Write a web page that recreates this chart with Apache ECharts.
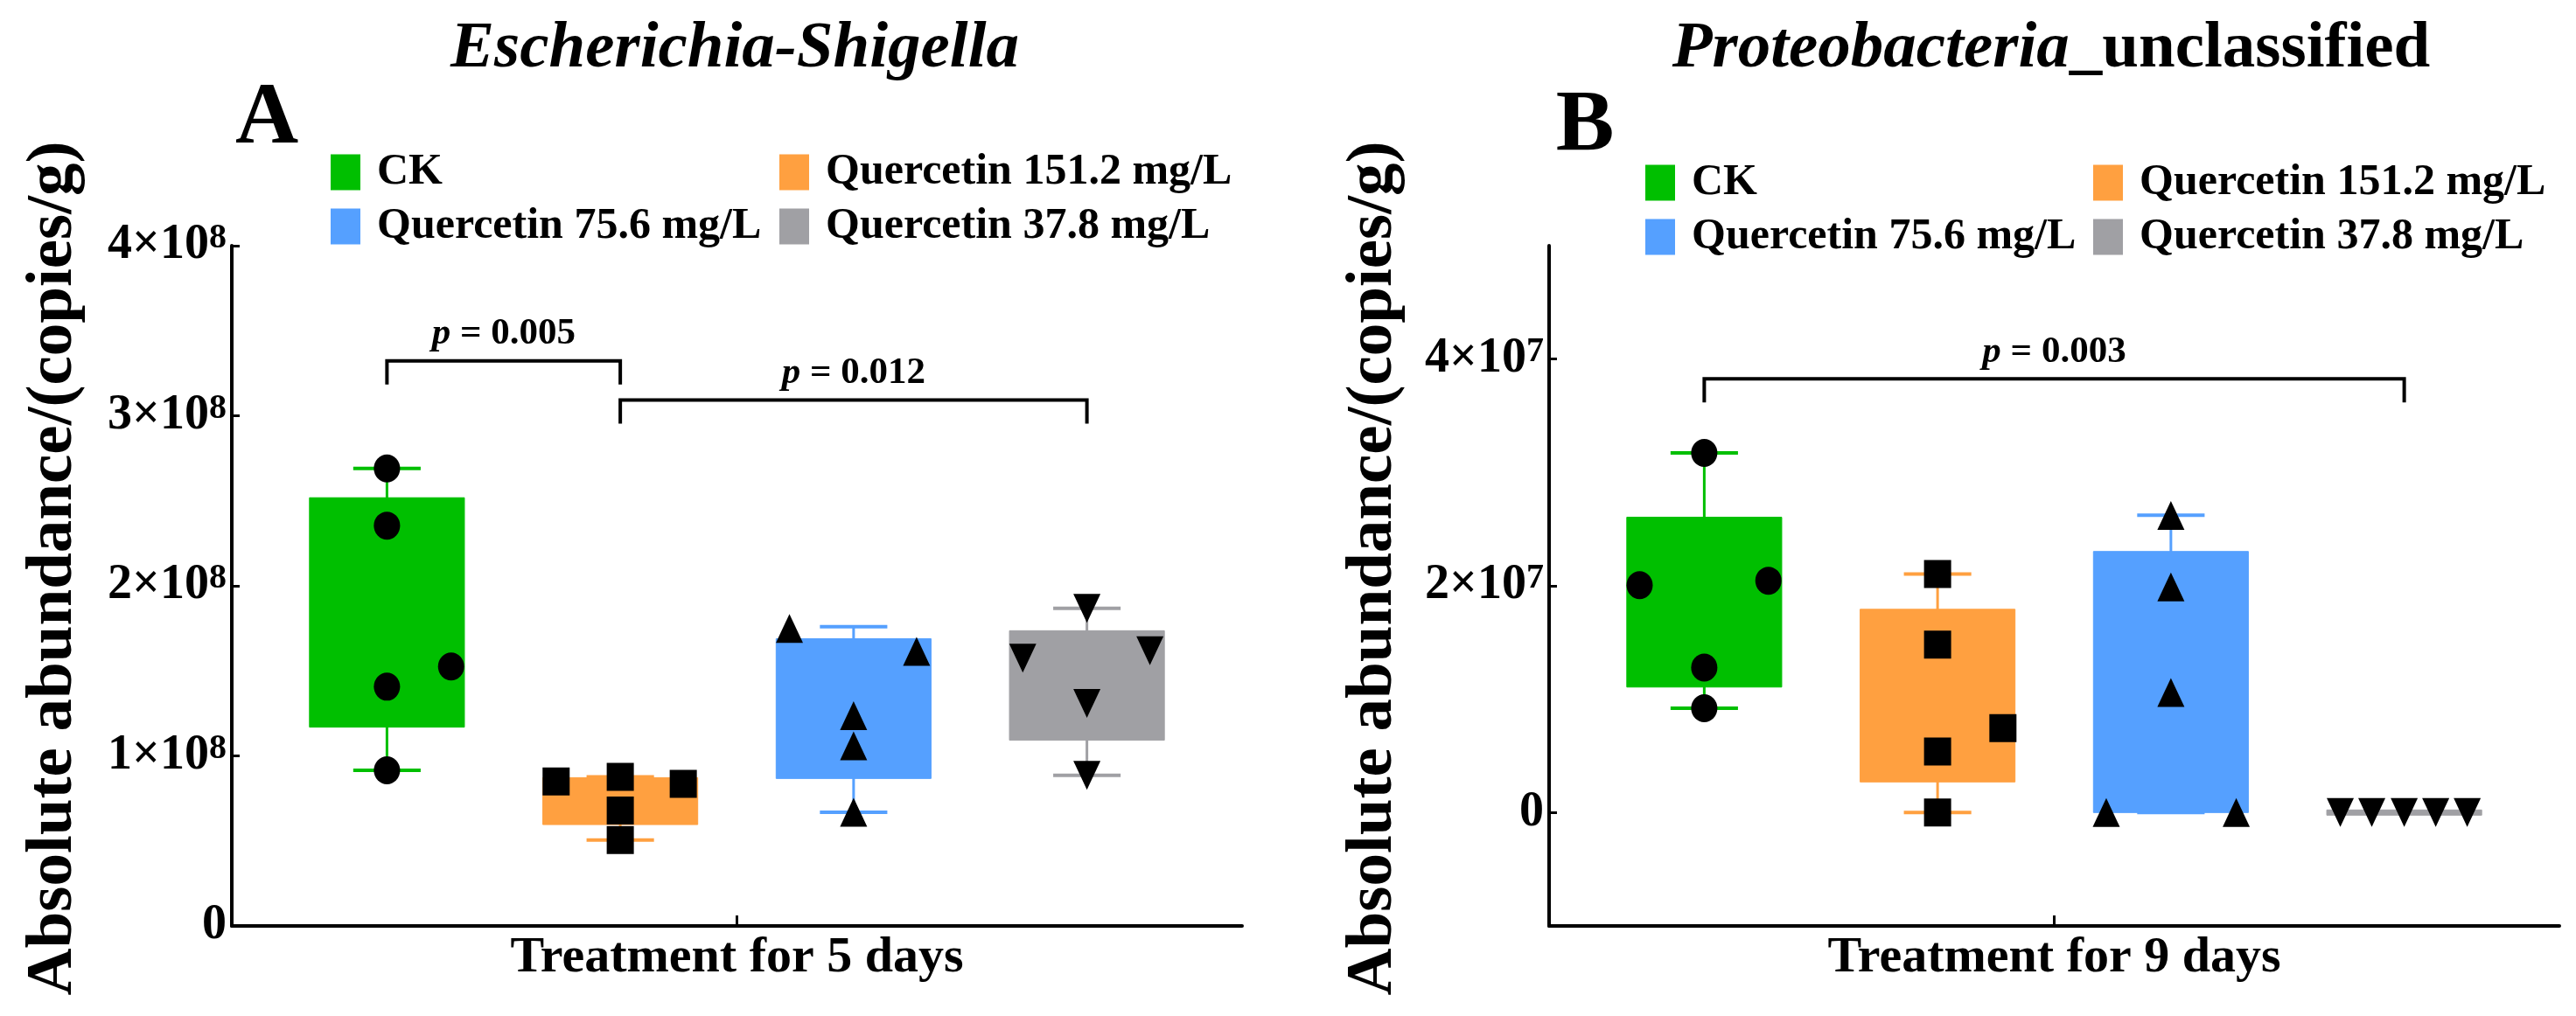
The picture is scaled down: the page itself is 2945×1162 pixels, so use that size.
<!DOCTYPE html>
<html>
<head>
<meta charset="utf-8">
<script src="https://cdn.jsdelivr.net/npm/echarts@6/dist/echarts.min.js"></script>
<style>
html,body{margin:0;padding:0;background:#fff;}
#c{width:2945px;height:1162px;}
</style>
</head>
<body>
<div id="c"></div>
<script>
// ---------- DATA ----------
const groups = ['CK', 'Quercetin 151.2 mg/L', 'Quercetin 75.6 mg/L', 'Quercetin 37.8 mg/L'];
const groupPos = [1, 2, 3, 4];

// Panel A: Escherichia-Shigella, treatment for 5 days (copies/g)
const aCK     = [2.69e8, 2.354e8, 1.526e8, 1.407e8, 0.915e8];
const aQ151   = [0.877e8, 0.85e8, 0.836e8, 0.679e8, 0.505e8];
const aQ756   = [1.75e8, 1.615e8, 1.236e8, 1.059e8, 0.668e8];
const aQ378   = [1.867e8, 1.618e8, 1.574e8, 1.309e8, 0.885e8];
// box summaries [min, Q1, Q3, max]
const aBoxCK   = [0.915e8, 1.169e8, 2.518e8, 2.69e8];
const aBoxQ151 = [0.505e8, 0.596e8, 0.872e8, 0.877e8];
const aBoxQ756 = [0.668e8, 0.867e8, 1.689e8, 1.759e8];
const aBoxQ378 = [0.885e8, 1.092e8, 1.736e8, 1.867e8];
// horizontal scatter offsets of the dots (category units)
const aJitCK   = [0, 0, 0.275, 0, 0];
const aJitQ151 = [0, -0.275, 0.27, 0, 0];
const aJitQ756 = [-0.275, 0.27, 0, 0, 0];
const aJitQ378 = [0, 0.27, -0.275, 0, 0];
// significance brackets [fromGroup, toGroup, height]
const aBrackets = [[1, 2, 3.323e8], [2, 4, 3.092e8]];
const aPvalues  = ['0.005', '0.012'];
const aYTicks   = [0, 1e8, 2e8, 3e8, 4e8];
const aExp      = 8;

// Panel B: Proteobacteria_unclassified, treatment for 9 days (copies/g)
const bCK     = [3.172e7, 2.045e7, 2.006e7, 1.279e7, 0.92e7];
const bQ151   = [2.104e7, 1.481e7, 0.745e7, 0.538e7, 0];
const bQ756   = [2.62e7, 1.99e7, 1.06e7, 0, 0];
const bQ378   = [0, 0, 0, 0, 0];
const bBoxCK   = [0.92e7, 1.107e7, 2.605e7, 3.172e7];
const bBoxQ151 = [0, 0.27e7, 1.793e7, 2.104e7];
const bBoxQ756 = [0, 0, 2.303e7, 2.623e7];
const bBoxQ378 = [0, 0, 0, 0];
const bJitCK   = [0, 0.275, -0.277, 0, 0];
const bJitQ151 = [0, 0, 0.28, 0, 0];
const bJitQ756 = [0, 0, 0, -0.277, 0.28];
const bJitQ378 = [-0.274, -0.139, 0, 0.135, 0.27];
const bBrackets = [[1, 4, 3.825e7]];
const bPvalues  = ['0.003'];
const bYTicks   = [0, 2e7, 4e7];
const bExp      = 7;

// ---------- STYLE ----------
const F = 'Liberation Serif';
const colors = ['#00BF00', '#FFA040', '#55A0FF', '#A0A0A4'];
const symbols = [
  {symbol: 'circle', size: [30, 32], rotate: 0},
  {symbol: 'rect', size: [31, 32], rotate: 0},
  {symbol: 'triangle', size: [31, 33], rotate: 0},
  {symbol: 'triangle', size: [31, 33], rotate: 180}
];
const BOX_W = 0.664, CAP_W = 0.289;

function renderBox(params, api) {
  const x = api.value(0);
  const pLo = api.coord([x, api.value(1)]);
  const pQ1 = api.coord([x, api.value(2)]);
  const pQ3 = api.coord([x, api.value(3)]);
  const pHi = api.coord([x, api.value(4)]);
  const bw = api.size([BOX_W, 0])[0];
  const cw = api.size([CAP_W, 0])[0];
  const color = api.visual('color');
  let top = pQ3[1], h = pQ1[1] - pQ3[1];
  if (h < 6) { top = (pQ1[1] + pQ3[1]) / 2 - 3; h = 6; }
  return {
    type: 'group',
    children: [
      {type: 'line', shape: {x1: pLo[0], y1: pLo[1], x2: pHi[0], y2: pHi[1]}, style: {stroke: color, lineWidth: 3}},
      {type: 'line', shape: {x1: pLo[0] - cw / 2, y1: pLo[1], x2: pLo[0] + cw / 2, y2: pLo[1]}, style: {stroke: color, lineWidth: 4}},
      {type: 'line', shape: {x1: pHi[0] - cw / 2, y1: pHi[1], x2: pHi[0] + cw / 2, y2: pHi[1]}, style: {stroke: color, lineWidth: 4}},
      {type: 'rect', shape: {x: pQ1[0] - bw / 2, y: top, width: bw, height: h}, style: {fill: color, stroke: color, lineWidth: 1}}
    ]
  };
}

function makeBracketRenderer(labels) {
  return function (params, api) {
    const p1 = api.coord([api.value(0), api.value(2)]);
    const p2 = api.coord([api.value(1), api.value(2)]);
    const leg = 27;
    return {
      type: 'group',
      children: [
        {type: 'polyline', shape: {points: [[p1[0], p1[1] + leg], [p1[0], p1[1]], [p2[0], p2[1]], [p2[0], p2[1] + leg]]},
         style: {stroke: '#000', lineWidth: 4, fill: 'none'}},
        {type: 'text', x: (p1[0] + p2[0]) / 2, y: p1[1] - 9,
         style: {text: '{i|p}{n| = ' + labels[params.dataIndex] + '}', align: 'center', verticalAlign: 'bottom',
                 textAlign: 'center', textVerticalAlign: 'bottom',
                 rich: {i: {fontFamily: F, fontStyle: 'italic', fontWeight: 'bold', fontSize: 43, fill: '#000', color: '#000'},
                        n: {fontFamily: F, fontWeight: 'bold', fontSize: 43, fill: '#000', color: '#000'}}}}
      ]
    };
  };
}

function buildSeries(gi, pts, boxes, jits, brackets, pvals) {
  const s = [];
  for (let g = 0; g < 4; g++) {
    s.push({
      type: 'custom', name: groups[g], xAxisIndex: gi, yAxisIndex: gi, z: 2,
      itemStyle: {color: colors[g]},
      renderItem: renderBox,
      encode: {x: 0, y: [1, 2, 3, 4]},
      data: [[groupPos[g]].concat(boxes[g])],
      silent: true
    });
  }
  for (let g = 0; g < 4; g++) {
    s.push({
      type: 'scatter', name: groups[g] + ' dots', xAxisIndex: gi, yAxisIndex: gi, z: 3,
      symbol: symbols[g].symbol, symbolSize: symbols[g].size, symbolRotate: symbols[g].rotate,
      itemStyle: {color: '#000', opacity: 1},
      data: pts[g].map((v, i) => [groupPos[g] + jits[g][i], v]),
      silent: true
    });
  }
  s.push({
    type: 'custom', name: 'brackets' + gi, xAxisIndex: gi, yAxisIndex: gi, z: 4,
    renderItem: makeBracketRenderer(pvals),
    encode: {x: [0, 1], y: 2},
    data: brackets,
    silent: true
  });
  return s;
}

function xAxisCfg(gi, name) {
  return {
    type: 'value', gridIndex: gi, min: 0.335, max: 4.665,
    name: name, nameLocation: 'middle', nameGap: 8,
    nameTextStyle: {fontFamily: F, fontWeight: 'bold', fontSize: 58, color: '#000', verticalAlign: 'top'},
    axisLine: {show: true, onZero: false, lineStyle: {color: '#000', width: 4}},
    axisTick: {show: true, inside: true, length: 12, customValues: [2.5], lineStyle: {color: '#000', width: 3}},
    axisLabel: {show: false},
    splitLine: {show: false}
  };
}

function yAxisCfg(gi, min, max, interval, ticks, exp, gap) {
  return {
    type: 'value', gridIndex: gi, min: min, max: max, interval: interval,
    name: 'Absolute abundance/(copies/g)', nameLocation: 'middle', nameGap: gap,
    nameTextStyle: {fontFamily: F, fontWeight: 'bold', fontSize: 75, color: '#000', padding: [0, 0, 0, 40]},
    axisLine: {show: true, onZero: false, lineStyle: {color: '#000', width: 4}},
    axisTick: {show: true, inside: true, length: 9, customValues: ticks, lineStyle: {color: '#000', width: 3}},
    axisLabel: {
      customValues: ticks, margin: 6,
      formatter: function (v) {
        if (v === 0) return '{a|0}';
        return '{a|' + Math.round(v / Math.pow(10, exp)) + '×10}{s|' + exp + '}';
      },
      rich: {
        a: {fontFamily: F, fontWeight: 'bold', fontSize: 56, color: '#000', lineHeight: 56},
        s: {fontFamily: F, fontWeight: 'bold', fontSize: 40, color: '#000', lineHeight: 30, verticalAlign: 'top'}
      }
    },
    splitLine: {show: false}
  };
}

function legendCfg(left, top, data) {
  return {
    left: left, top: top, orient: 'vertical', data: data, icon: 'rect',
    itemWidth: 34, itemHeight: 41, itemGap: 12, padding: 0, selectedMode: false,
    textStyle: {fontFamily: F, fontWeight: 'bold', fontSize: 50, color: '#000', lineHeight: 41, padding: [0, 0, 0, 14]}
  };
}

const chart = echarts.init(document.getElementById('c'), null, {renderer: 'canvas'});
const option = {
  backgroundColor: '#fff',
  animation: false,
  grid: [
    {left: 265, top: 281, width: 1155, height: 778, containLabel: false, outerBoundsMode: 'none'},
    {left: 1771, top: 281, width: 1155, height: 778, containLabel: false, outerBoundsMode: 'none'}
  ],
  xAxis: [xAxisCfg(0, 'Treatment for 5 days'), xAxisCfg(1, 'Treatment for 9 days')],
  yAxis: [
    yAxisCfg(0, 0, 4e8, 1e8, aYTicks, aExp, 166),
    yAxisCfg(1, -1e7, 5e7, 1e7, bYTicks, bExp, 163)
  ],
  legend: [
    legendCfg(378, 172, [groups[0], groups[2]]),
    legendCfg(891, 172, [groups[1], groups[3]]),
    legendCfg(1881, 184, [groups[0], groups[2]]),
    legendCfg(2393, 184, [groups[1], groups[3]])
  ],
  graphic: [
    {type: 'text', x: 840, y: 57, style: {text: 'Escherichia-Shigella', fontFamily: F, fontStyle: 'italic', fontWeight: 'bold', fontSize: 75, fill: '#000', align: 'center', verticalAlign: 'middle'}},
    {type: 'text', x: 2345, y: 57, style: {
      text: '{i|Proteobacteria}{n|_unclassified}', align: 'center', verticalAlign: 'middle',
      rich: {i: {fontFamily: F, fontStyle: 'italic', fontWeight: 'bold', fontSize: 75, fill: '#000'},
             n: {fontFamily: F, fontWeight: 'bold', fontSize: 75, fill: '#000'}}}},
    {type: 'text', x: 305, y: 137, style: {text: 'A', fontFamily: F, fontWeight: 'bold', fontSize: 100, fill: '#000', align: 'center', verticalAlign: 'middle'}},
    {type: 'text', x: 1812, y: 145, style: {text: 'B', fontFamily: F, fontWeight: 'bold', fontSize: 100, fill: '#000', align: 'center', verticalAlign: 'middle'}}
  ],
  series: [].concat(
    buildSeries(0, [aCK, aQ151, aQ756, aQ378], [aBoxCK, aBoxQ151, aBoxQ756, aBoxQ378],
                [aJitCK, aJitQ151, aJitQ756, aJitQ378], aBrackets, aPvalues),
    buildSeries(1, [bCK, bQ151, bQ756, bQ378], [bBoxCK, bBoxQ151, bBoxQ756, bBoxQ378],
                [bJitCK, bJitQ151, bJitQ756, bJitQ378], bBrackets, bPvalues)
  )
};
chart.setOption(option);
</script>
</body>
</html>
